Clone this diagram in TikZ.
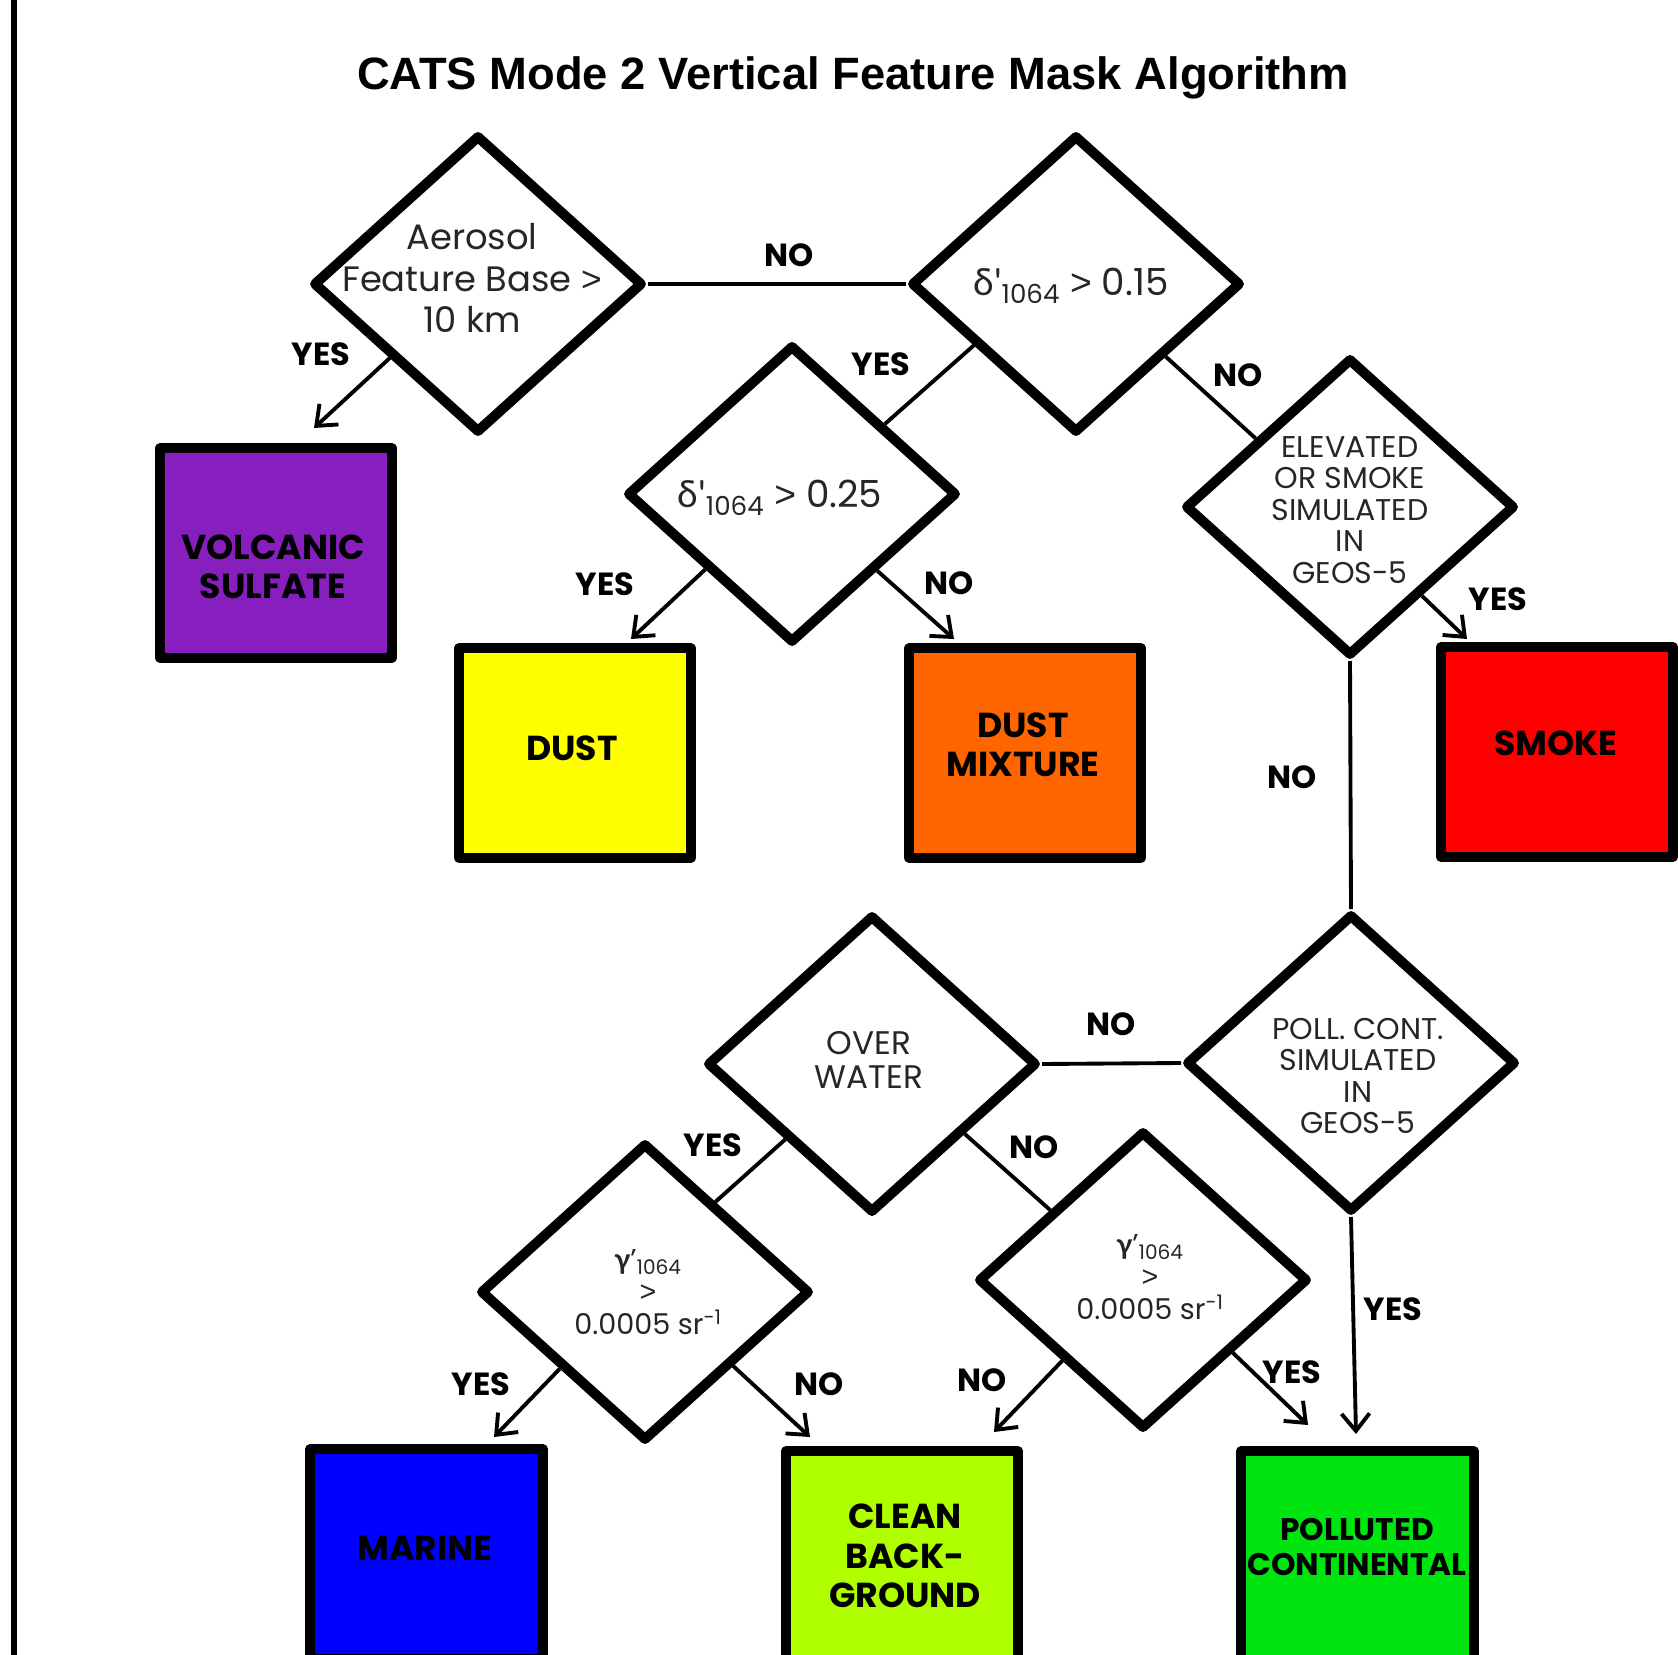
\documentclass[tikz,border=0pt]{standalone}
\usepackage{fontspec}
\setmainfont{Poppins}
\newfontfamily\titlefont{Liberation Sans}
\newfontfamily\greek{Lato}
\usetikzlibrary{shapes.geometric,arrows.meta}

\definecolor{volcpurple}{RGB}{135,30,190}
\definecolor{dustyellow}{RGB}{255,255,0}
\definecolor{mixorange}{RGB}{255,102,0}
\definecolor{smokered}{RGB}{255,0,0}
\definecolor{marineblue}{RGB}{0,0,255}
\definecolor{cleanlime}{RGB}{175,255,0}
\definecolor{pollgreen}{RGB}{0,228,15}

\newcommand{\dprime}{{\greek δ\textquotesingle}}
\newcommand{\gprime}{{\greek\bfseries γ}’}
\newcommand{\gt}{{\titlefont >}}

\tikzset{
  decision/.style={draw,shape=diamond,line width=7.5pt,line join=round,
    minimum width=247.5pt,minimum height=223.5pt,inner sep=0pt},
  qtext/.style={align=center,inner sep=0pt,text=black!85},
  classbox/.style={draw,rectangle,line width=7.5pt,line join=round,
    minimum width=174.5pt,minimum height=157pt,inner sep=0pt},
  classtext/.style={align=center,inner sep=0pt,
    font=\fontsize{26}{29.5}\selectfont\bfseries},
  answer/.style={inner sep=0pt,font=\fontsize{24}{28}\selectfont\bfseries},
  link/.style={line width=2.9pt},
  linkto/.style={line width=2.9pt,-{Straight Barb[length=13pt,width=21pt]}},
}

\begin{document}
\begin{tikzpicture}[x=0.75pt,y=0.75pt,yscale=-1,xscale=1]
\useasboundingbox (0,0) rectangle (1678,1655);
\clip (0,0) rectangle (1678,1655);

% Frame line on the left
\draw [line width=4.8pt] (14,0) -- (14,1655);

% Title
\node [anchor=base,inner sep=0pt,font=\titlefont\bfseries\fontsize{34}{40}\selectfont] (title) at (853,90) {CATS Mode 2 Vertical Feature Mask Algorithm};

% Decision Nodes
\node [decision] (base) at (478,284) {};
\node [decision] (dep15) at (1076,284) {};
\node [decision] (dep25) at (792,494) {};
\node [decision] (smk) at (1350,507) {};
\node [decision] (poll) at (1351,1063) {};
\node [decision] (water) at (872,1064) {};
\node [decision] (lrw) at (645,1292) {};
\node [decision] (lrl) at (1143,1280) {};

% Text Node
\node [qtext,font=\fontsize{26.5}{31.3}\selectfont] (base-t) at (472,278) {Aerosol\\Feature Base \gt\\10 km};
% Text Node
\node [qtext,font=\fontsize{28}{30}\selectfont] (dep15-t) at (1071,286) {\dprime\textsubscript{1064} \gt{} 0.15};
% Text Node
\node [qtext,font=\fontsize{28}{30}\selectfont] (dep25-t) at (780,498) {\dprime\textsubscript{1064} \gt{} 0.25};
% Text Node
\node [qtext,font=\fontsize{22.5}{23.7}\selectfont] (smk-t) at (1350,510) {ELEVATED\\OR SMOKE\\SIMULATED\\IN\\GEOS-5};
% Text Node
\node [qtext,font=\fontsize{22.5}{23.7}\selectfont] (poll-t) at (1358,1076) {POLL. CONT.\\SIMULATED\\IN\\GEOS-5};
% Text Node
\node [qtext,font=\fontsize{24.5}{25.7}\selectfont] (water-t) at (869,1060) {OVER\\WATER};
% Text Node
\node [qtext,font=\fontsize{21.5}{24.5}\selectfont] (lrw-t) at (648,1292) {\gprime\textsubscript{1064}\\\gt\\0.0005 sr\textsuperscript{-1}};
% Text Node
\node [qtext,font=\fontsize{21.5}{24.5}\selectfont] (lrl-t) at (1150,1277) {\gprime\textsubscript{1064}\\\gt\\0.0005 sr\textsuperscript{-1}};

% Class Nodes
\node [classbox,fill=volcpurple] (volcanic) at (276,553) {};
\node [classbox,fill=dustyellow] (dust) at (575,753) {};
\node [classbox,fill=mixorange] (dustmix) at (1025,753) {};
\node [classbox,fill=smokered] (smoke) at (1557,752) {};
\node [classbox,fill=marineblue] (marine) at (426.5,1554) {};
\node [classbox,fill=cleanlime] (clean) at (902,1556) {};
\node [classbox,fill=pollgreen] (polluted) at (1357.5,1556) {};

% Class Text
\node [classtext] (volcanic-t) at (273,567) {VOLCANIC\\SULFATE};
\node [classtext] (dust-t) at (572,748) {DUST};
\node [classtext] (dustmix-t) at (1023,745) {DUST\\MIXTURE};
\node [classtext] (smoke-t) at (1556,743) {SMOKE};
\node [classtext] (marine-t) at (425,1548) {MARINE};
\node [classtext] (clean-t) at (905,1556) {CLEAN\\BACK-\\GROUND};
\node [classtext,font=\fontsize{23.4}{26}\selectfont\bfseries] (polluted-t) at (1357,1547) {POLLUTED\\CONTINENTAL};

% Arrow ends
\coordinate (volc-in) at (314,428);
\coordinate (dust-in) at (631,639);
\coordinate (dmix-in) at (954,639);
\coordinate (smoke-in) at (1467,639);
\coordinate (poll-in) at (1356,1434);
\coordinate (marine-in) at (494,1437);
\coordinate (clean-in) at (810,1437);
\coordinate (clean-in2) at (994,1432);
\coordinate (poll-in2) at (1308,1425);

% Connection
\draw [link] (base.east) -- (dep15.west);
\draw [linkto] (base.220) -- (volc-in);
% Connection
\draw [link] (dep15.211) -- (dep25.37);
\draw [link] (dep15.321) -- (smk.144);
% Connection
\draw [linkto] (dep25.221) -- (dust-in);
\draw [linkto] (dep25.318) -- (dmix-in);
% Connection
\draw [linkto] (smk.309) -- (smoke-in);
\draw [link] (smk.south) -- (poll.north);
% Connection
\draw [link] (poll.west) -- (water.east);
\draw [linkto] (poll.south) -- (poll-in);
% Connection
\draw [link] (water.221) -- (lrw.52);
\draw [link] (water.323) -- (lrl.143);
% Connection
\draw [linkto] (lrw.222) -- (marine-in);
\draw [linkto] (lrw.320) -- (clean-in);
\draw [linkto] (lrl.225) -- (clean-in2);
\draw [linkto] (lrl.321) -- (poll-in2);

% Answer Labels
\node [answer] (no1) at (789,255) {NO};
\node [answer] (yes1) at (321,354) {YES};
\node [answer] (yes2) at (881,364) {YES};
\node [answer] (no2) at (1238,375) {NO};
\node [answer] (yes3) at (605,584) {YES};
\node [answer] (no3) at (949,583) {NO};
\node [answer] (yes4) at (1498,599) {YES};
\node [answer] (no4) at (1292,777) {NO};
\node [answer] (no5) at (1111,1024) {NO};
\node [answer] (yes5) at (1393,1309) {YES};
\node [answer] (yes6) at (713,1145) {YES};
\node [answer] (no6) at (1034,1147) {NO};
\node [answer] (yes7) at (481,1384) {YES};
\node [answer] (no7) at (819,1384) {NO};
\node [answer] (no8) at (982,1380) {NO};
\node [answer] (yes8) at (1292,1372) {YES};

\end{tikzpicture}
\end{document}
